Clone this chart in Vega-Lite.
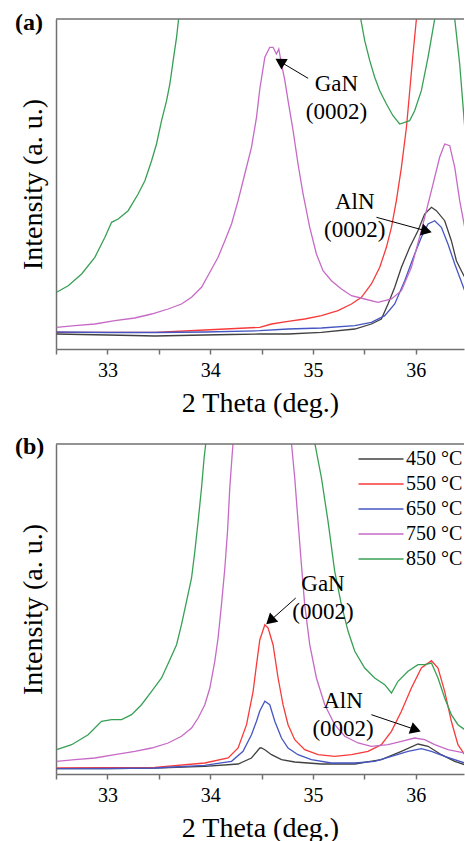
{
  "$schema": "https://vega.github.io/schema/vega-lite/v6.json",
  "padding": {"left": 15, "top": 11, "right": 0, "bottom": 0},
  "spacing": 18,
  "config": {
    "font": "Liberation Serif",
    "view": {"stroke": null},
    "axis": {"domainColor": "#707070", "domainWidth": 1.5, "tickColor": "#707070", "tickWidth": 1.5, "labelFont": "Liberation Serif", "titleFont": "Liberation Serif", "labelColor": "#000000", "titleColor": "#000000", "grid": false, "titleFontWeight": "normal"}
  },
  "resolve": {"scale": {"color": "independent"}, "legend": {"color": "independent"}},
  "datasets": {
    "a": [
      {"t":"450 °C","x":32.506,"y":15},{"t":"450 °C","x":32.75,"y":14.5},{"t":"450 °C","x":33.0,"y":14},{"t":"450 °C","x":33.25,"y":13.5},{"t":"450 °C","x":33.462,"y":13},{"t":"450 °C","x":33.7,"y":13.5},{"t":"450 °C","x":33.948,"y":14},{"t":"450 °C","x":34.2,"y":14.5},{"t":"450 °C","x":34.483,"y":15},{"t":"450 °C","x":34.758,"y":15},{"t":"450 °C","x":35.083,"y":16.7},{"t":"450 °C","x":35.407,"y":20},{"t":"450 °C","x":35.569,"y":25},{"t":"450 °C","x":35.666,"y":30},{"t":"450 °C","x":35.731,"y":45},{"t":"450 °C","x":35.796,"y":61.7},{"t":"450 °C","x":35.861,"y":81.7},{"t":"450 °C","x":35.942,"y":101.7},{"t":"450 °C","x":36.022,"y":118.3},{"t":"450 °C","x":36.087,"y":135},{"t":"450 °C","x":36.153,"y":141.7},{"t":"450 °C","x":36.201,"y":138.3},{"t":"450 °C","x":36.282,"y":128.3},{"t":"450 °C","x":36.347,"y":108.3},{"t":"450 °C","x":36.396,"y":88.3},{"t":"450 °C","x":36.444,"y":78.3},{"t":"450 °C","x":36.477,"y":71.7},
      {"t":"550 °C","x":32.506,"y":16.7},{"t":"550 °C","x":33.0,"y":16.7},{"t":"550 °C","x":33.462,"y":16.7},{"t":"550 °C","x":33.948,"y":19},{"t":"550 °C","x":34.483,"y":21.7},{"t":"550 °C","x":34.597,"y":25},{"t":"550 °C","x":34.758,"y":27.7},{"t":"550 °C","x":34.92,"y":30},{"t":"550 °C","x":35.083,"y":33.3},{"t":"550 °C","x":35.244,"y":38.3},{"t":"550 °C","x":35.375,"y":45},{"t":"550 °C","x":35.472,"y":51.7},{"t":"550 °C","x":35.569,"y":65},{"t":"550 °C","x":35.65,"y":81.7},{"t":"550 °C","x":35.715,"y":101.7},{"t":"550 °C","x":35.764,"y":121.7},{"t":"550 °C","x":35.812,"y":148.3},{"t":"550 °C","x":35.861,"y":181.7},{"t":"550 °C","x":35.91,"y":221.7},{"t":"550 °C","x":35.942,"y":258.3},{"t":"550 °C","x":35.974,"y":295},{"t":"550 °C","x":36.007,"y":330},{"t":"550 °C","x":36.1,"y":700},{"t":"550 °C","x":36.477,"y":1500},
      {"t":"650 °C","x":32.506,"y":17},{"t":"650 °C","x":33.0,"y":16.5},{"t":"650 °C","x":33.462,"y":16.5},{"t":"650 °C","x":33.948,"y":17},{"t":"650 °C","x":34.483,"y":18.3},{"t":"650 °C","x":34.758,"y":20},{"t":"650 °C","x":35.083,"y":21},{"t":"650 °C","x":35.407,"y":23.3},{"t":"650 °C","x":35.569,"y":26.7},{"t":"650 °C","x":35.699,"y":33.3},{"t":"650 °C","x":35.796,"y":45},{"t":"650 °C","x":35.893,"y":68.3},{"t":"650 °C","x":35.99,"y":95},{"t":"650 °C","x":36.055,"y":111.7},{"t":"650 °C","x":36.12,"y":125},{"t":"650 °C","x":36.185,"y":128.3},{"t":"650 °C","x":36.25,"y":121.7},{"t":"650 °C","x":36.314,"y":105},{"t":"650 °C","x":36.38,"y":85},{"t":"650 °C","x":36.428,"y":71.7},{"t":"650 °C","x":36.477,"y":58.3},
      {"t":"750 °C","x":32.506,"y":21.7},{"t":"750 °C","x":32.684,"y":23.3},{"t":"750 °C","x":32.878,"y":25},{"t":"750 °C","x":33.073,"y":28.3},{"t":"750 °C","x":33.267,"y":31},{"t":"750 °C","x":33.43,"y":35},{"t":"750 °C","x":33.591,"y":40},{"t":"750 °C","x":33.721,"y":45},{"t":"750 °C","x":33.819,"y":51.7},{"t":"750 °C","x":33.916,"y":61.7},{"t":"750 °C","x":33.997,"y":76.7},{"t":"750 °C","x":34.077,"y":91.7},{"t":"750 °C","x":34.143,"y":108.3},{"t":"750 °C","x":34.208,"y":125},{"t":"750 °C","x":34.272,"y":148.3},{"t":"750 °C","x":34.337,"y":175},{"t":"750 °C","x":34.402,"y":201.7},{"t":"750 °C","x":34.451,"y":231.7},{"t":"750 °C","x":34.483,"y":260},{"t":"750 °C","x":34.532,"y":291.7},{"t":"750 °C","x":34.58,"y":301.7},{"t":"750 °C","x":34.612,"y":301.7},{"t":"750 °C","x":34.645,"y":295},{"t":"750 °C","x":34.668,"y":300},{"t":"750 °C","x":34.694,"y":285},{"t":"750 °C","x":34.727,"y":268.3},{"t":"750 °C","x":34.758,"y":248.3},{"t":"750 °C","x":34.807,"y":218.3},{"t":"750 °C","x":34.855,"y":185},{"t":"750 °C","x":34.904,"y":155},{"t":"750 °C","x":34.969,"y":121.7},{"t":"750 °C","x":35.034,"y":95},{"t":"750 °C","x":35.098,"y":78.3},{"t":"750 °C","x":35.18,"y":68.3},{"t":"750 °C","x":35.277,"y":60},{"t":"750 °C","x":35.375,"y":53.3},{"t":"750 °C","x":35.504,"y":50},{"t":"750 °C","x":35.633,"y":46.7},{"t":"750 °C","x":35.764,"y":50},{"t":"750 °C","x":35.861,"y":58.3},{"t":"750 °C","x":35.958,"y":81.7},{"t":"750 °C","x":36.055,"y":118.3},{"t":"750 °C","x":36.153,"y":158.3},{"t":"750 °C","x":36.233,"y":191.7},{"t":"750 °C","x":36.282,"y":205},{"t":"750 °C","x":36.331,"y":203.3},{"t":"750 °C","x":36.38,"y":181.7},{"t":"750 °C","x":36.428,"y":148.3},{"t":"750 °C","x":36.477,"y":121.7},
      {"t":"850 °C","x":32.506,"y":56.7},{"t":"850 °C","x":32.619,"y":63.3},{"t":"850 °C","x":32.749,"y":75},{"t":"850 °C","x":32.878,"y":91.7},{"t":"850 °C","x":32.976,"y":111.7},{"t":"850 °C","x":33.041,"y":126.7},{"t":"850 °C","x":33.105,"y":130},{"t":"850 °C","x":33.202,"y":138.3},{"t":"850 °C","x":33.299,"y":155},{"t":"850 °C","x":33.365,"y":168.3},{"t":"850 °C","x":33.43,"y":188.3},{"t":"850 °C","x":33.478,"y":205},{"t":"850 °C","x":33.527,"y":228.3},{"t":"850 °C","x":33.576,"y":248.3},{"t":"850 °C","x":33.608,"y":265},{"t":"850 °C","x":33.64,"y":288.3},{"t":"850 °C","x":33.673,"y":311.7},{"t":"850 °C","x":33.695,"y":331.7},{"t":"850 °C","x":33.75,"y":420},{"t":"850 °C","x":34.6,"y":1000},{"t":"850 °C","x":35.4,"y":420},{"t":"850 °C","x":35.465,"y":330},{"t":"850 °C","x":35.504,"y":308.3},{"t":"850 °C","x":35.553,"y":288.3},{"t":"850 °C","x":35.601,"y":271.7},{"t":"850 °C","x":35.65,"y":258.3},{"t":"850 °C","x":35.715,"y":245},{"t":"850 °C","x":35.779,"y":233.3},{"t":"850 °C","x":35.844,"y":225},{"t":"850 °C","x":35.893,"y":226.7},{"t":"850 °C","x":35.941,"y":228.3},{"t":"850 °C","x":35.99,"y":238.3},{"t":"850 °C","x":36.055,"y":258.3},{"t":"850 °C","x":36.12,"y":291.7},{"t":"850 °C","x":36.185,"y":330},{"t":"850 °C","x":36.25,"y":450},{"t":"850 °C","x":36.31,"y":480},{"t":"850 °C","x":36.36,"y":420},{"t":"850 °C","x":36.38,"y":330},{"t":"850 °C","x":36.428,"y":285},{"t":"850 °C","x":36.477,"y":222}
    ],
    "b": [
      {"t":"450 °C","x":32.506,"y":5.3},{"t":"450 °C","x":33.0,"y":5.5},{"t":"450 °C","x":33.462,"y":6},{"t":"450 °C","x":33.948,"y":7.7},{"t":"450 °C","x":34.272,"y":10},{"t":"450 °C","x":34.402,"y":16},{"t":"450 °C","x":34.483,"y":26},{"t":"450 °C","x":34.499,"y":26},{"t":"450 °C","x":34.532,"y":24.3},{"t":"450 °C","x":34.597,"y":19.3},{"t":"450 °C","x":34.694,"y":14.3},{"t":"450 °C","x":34.823,"y":12},{"t":"450 °C","x":35.083,"y":10},{"t":"450 °C","x":35.407,"y":10},{"t":"450 °C","x":35.666,"y":14.3},{"t":"450 °C","x":35.861,"y":22.7},{"t":"450 °C","x":36.022,"y":30},{"t":"450 °C","x":36.12,"y":27.7},{"t":"450 °C","x":36.25,"y":19.3},{"t":"450 °C","x":36.38,"y":12.7},{"t":"450 °C","x":36.477,"y":9.3},
      {"t":"550 °C","x":32.506,"y":6},{"t":"550 °C","x":33.0,"y":6.3},{"t":"550 °C","x":33.462,"y":6.7},{"t":"550 °C","x":33.948,"y":11},{"t":"550 °C","x":34.175,"y":16},{"t":"550 °C","x":34.272,"y":26},{"t":"550 °C","x":34.354,"y":49.3},{"t":"550 °C","x":34.418,"y":82.7},{"t":"550 °C","x":34.451,"y":109.3},{"t":"550 °C","x":34.483,"y":134},{"t":"550 °C","x":34.532,"y":149.3},{"t":"550 °C","x":34.564,"y":146},{"t":"550 °C","x":34.612,"y":129.3},{"t":"550 °C","x":34.661,"y":96},{"t":"550 °C","x":34.709,"y":69.3},{"t":"550 °C","x":34.758,"y":49.3},{"t":"550 °C","x":34.823,"y":34.3},{"t":"550 °C","x":34.92,"y":24.3},{"t":"550 °C","x":35.05,"y":19.3},{"t":"550 °C","x":35.212,"y":17.7},{"t":"550 °C","x":35.375,"y":19.3},{"t":"550 °C","x":35.536,"y":22.7},{"t":"550 °C","x":35.666,"y":29.3},{"t":"550 °C","x":35.764,"y":42.7},{"t":"550 °C","x":35.861,"y":62.7},{"t":"550 °C","x":35.958,"y":86},{"t":"550 °C","x":36.055,"y":106},{"t":"550 °C","x":36.153,"y":113.3},{"t":"550 °C","x":36.217,"y":106},{"t":"550 °C","x":36.282,"y":82.7},{"t":"550 °C","x":36.347,"y":52.7},{"t":"550 °C","x":36.411,"y":29.3},{"t":"550 °C","x":36.477,"y":19.3},
      {"t":"650 °C","x":32.506,"y":5.3},{"t":"650 °C","x":33.0,"y":5.5},{"t":"650 °C","x":33.462,"y":6},{"t":"650 °C","x":33.948,"y":8.7},{"t":"650 °C","x":34.208,"y":12.7},{"t":"650 °C","x":34.32,"y":22.7},{"t":"650 °C","x":34.402,"y":39.3},{"t":"650 °C","x":34.451,"y":52.7},{"t":"650 °C","x":34.483,"y":63},{"t":"650 °C","x":34.532,"y":72.7},{"t":"650 °C","x":34.58,"y":69.3},{"t":"650 °C","x":34.629,"y":52.7},{"t":"650 °C","x":34.694,"y":36},{"t":"650 °C","x":34.758,"y":26},{"t":"650 °C","x":34.855,"y":19.3},{"t":"650 °C","x":34.985,"y":14.3},{"t":"650 °C","x":35.18,"y":11},{"t":"650 °C","x":35.407,"y":11},{"t":"650 °C","x":35.601,"y":12.7},{"t":"650 °C","x":35.764,"y":17.7},{"t":"650 °C","x":35.925,"y":22.7},{"t":"650 °C","x":36.055,"y":25.3},{"t":"650 °C","x":36.153,"y":22.7},{"t":"650 °C","x":36.282,"y":17.7},{"t":"650 °C","x":36.477,"y":11},
      {"t":"750 °C","x":32.506,"y":12.7},{"t":"750 °C","x":32.684,"y":14.3},{"t":"750 °C","x":32.878,"y":16},{"t":"750 °C","x":33.073,"y":19.3},{"t":"750 °C","x":33.267,"y":22.7},{"t":"750 °C","x":33.43,"y":26},{"t":"750 °C","x":33.591,"y":31},{"t":"750 °C","x":33.721,"y":37.7},{"t":"750 °C","x":33.819,"y":46},{"t":"750 °C","x":33.883,"y":56},{"t":"750 °C","x":33.948,"y":69.3},{"t":"750 °C","x":33.997,"y":86},{"t":"750 °C","x":34.045,"y":112.7},{"t":"750 °C","x":34.077,"y":136},{"t":"750 °C","x":34.11,"y":169.3},{"t":"750 °C","x":34.143,"y":206},{"t":"750 °C","x":34.169,"y":242.7},{"t":"750 °C","x":34.191,"y":286},{"t":"750 °C","x":34.214,"y":319.3},{"t":"750 °C","x":34.223,"y":331},{"t":"750 °C","x":34.3,"y":600},{"t":"750 °C","x":34.5,"y":1000},{"t":"750 °C","x":34.7,"y":600},{"t":"750 °C","x":34.791,"y":331},{"t":"750 °C","x":34.823,"y":296},{"t":"750 °C","x":34.855,"y":252.7},{"t":"750 °C","x":34.888,"y":209.3},{"t":"750 °C","x":34.92,"y":169.3},{"t":"750 °C","x":34.969,"y":129.3},{"t":"750 °C","x":35.034,"y":96},{"t":"750 °C","x":35.115,"y":69.3},{"t":"750 °C","x":35.212,"y":49.3},{"t":"750 °C","x":35.31,"y":37.7},{"t":"750 °C","x":35.439,"y":31},{"t":"750 °C","x":35.569,"y":27.7},{"t":"750 °C","x":35.731,"y":29.3},{"t":"750 °C","x":35.861,"y":32.7},{"t":"750 °C","x":35.99,"y":36},{"t":"750 °C","x":36.087,"y":34.3},{"t":"750 °C","x":36.185,"y":29.3},{"t":"750 °C","x":36.314,"y":24.3},{"t":"750 °C","x":36.477,"y":21},
      {"t":"850 °C","x":32.506,"y":24.3},{"t":"850 °C","x":32.652,"y":29.3},{"t":"850 °C","x":32.813,"y":39.3},{"t":"850 °C","x":32.943,"y":52.7},{"t":"850 °C","x":33.041,"y":54.3},{"t":"850 °C","x":33.138,"y":54.3},{"t":"850 °C","x":33.235,"y":59.3},{"t":"850 °C","x":33.332,"y":69.3},{"t":"850 °C","x":33.43,"y":82.7},{"t":"850 °C","x":33.527,"y":96},{"t":"850 °C","x":33.608,"y":114.3},{"t":"850 °C","x":33.673,"y":129.3},{"t":"850 °C","x":33.721,"y":149.3},{"t":"850 °C","x":33.77,"y":172.7},{"t":"850 °C","x":33.819,"y":196},{"t":"850 °C","x":33.851,"y":222.7},{"t":"850 °C","x":33.883,"y":252.7},{"t":"850 °C","x":33.916,"y":286},{"t":"850 °C","x":33.941,"y":316},{"t":"850 °C","x":33.958,"y":331},{"t":"850 °C","x":34.05,"y":500},{"t":"850 °C","x":34.5,"y":1200},{"t":"850 °C","x":34.95,"y":500},{"t":"850 °C","x":35.018,"y":331},{"t":"850 °C","x":35.083,"y":296},{"t":"850 °C","x":35.147,"y":252.7},{"t":"850 °C","x":35.212,"y":202.7},{"t":"850 °C","x":35.277,"y":169.3},{"t":"850 °C","x":35.342,"y":142.7},{"t":"850 °C","x":35.407,"y":122.7},{"t":"850 °C","x":35.504,"y":106},{"t":"850 °C","x":35.601,"y":96},{"t":"850 °C","x":35.699,"y":89.3},{"t":"850 °C","x":35.764,"y":81},{"t":"850 °C","x":35.828,"y":92.7},{"t":"850 °C","x":35.925,"y":102.7},{"t":"850 °C","x":36.022,"y":109.3},{"t":"850 °C","x":36.087,"y":109.3},{"t":"850 °C","x":36.153,"y":111},{"t":"850 °C","x":36.217,"y":96},{"t":"850 °C","x":36.282,"y":76},{"t":"850 °C","x":36.347,"y":59.3},{"t":"850 °C","x":36.411,"y":49.3},{"t":"850 °C","x":36.477,"y":44.3}
    ],
    "ann_a": [
      {"label":"GaN\n(0002)","tx":35.229,"ty":265,"sx":34.953,"sy":270.7,"hx":34.68,"hy":287.4,"ang":301},
      {"label":"AlN\n(0002)","tx":35.407,"ty":147.3,"sx":35.618,"sy":131.7,"hx":36.106,"hy":118,"ang":105}
    ],
    "ann_b": [
      {"label":"GaN\n(0002)","tx":35.098,"ty":190.3,"sx":34.833,"sy":176,"hx":34.584,"hy":153.3,"ang":228},
      {"label":"AlN\n(0002)","tx":35.293,"ty":72.7,"sx":35.569,"sy":59.3,"hx":36.0,"hy":44.3,"ang":109}
    ]
  },
  "vconcat": [
    {
      "width": 408, "height": 330,
      "title": {"text": "(a)", "anchor": "start", "frame": "group", "dx": -41, "offset": -29, "baseline": "middle", "fontSize": 24, "fontWeight": "bold", "font": "Liberation Serif", "color": "#000000"},
      "layer": [
        {"data": {"name": "a"}, "mark": {"type": "line", "clip": true, "strokeWidth": 1.3},
          "encoding": {
            "x": {"field": "x", "type": "quantitative", "title": "2 Theta (deg.)", "scale": {"domain": [32.5, 36.47], "nice": false, "zero": false},
              "axis": {"values": [32.5, 33, 33.5, 34, 34.5, 35, 35.5, 36], "labelExpr": "datum.value % 1 === 0 ? format(datum.value, 'd') : ''", "tickSize": 5, "labelPadding": 6, "labelFontSize": 20, "titleFontSize": 28, "titlePadding": 9, "labelFlush": false, "labelOverlap": false}},
            "y": {"field": "y", "type": "quantitative", "title": "Intensity (a. u.)", "scale": {"domain": [0, 330], "nice": false, "zero": false},
              "axis": {"ticks": false, "labels": false, "titleFontSize": 28, "titlePadding": 9}},
            "color": {"field": "t", "type": "nominal", "scale": {"domain": ["450 °C", "550 °C", "650 °C", "750 °C", "850 °C"], "range": ["#404040", "#f83a3a", "#4556c2", "#c66ac6", "#38a055"]}, "legend": null}
          }},
        {"data": {"values": [{}]}, "mark": {"type": "rule", "color": "#707070", "strokeWidth": 1.5}, "encoding": {"y": {"datum": 330}}},
        {"data": {"name": "ann_a"}, "mark": {"type": "rule", "color": "#000000", "strokeWidth": 1},
          "encoding": {"x": {"field": "sx", "type": "quantitative", "title": "2 Theta (deg.)"}, "y": {"field": "sy", "type": "quantitative", "title": "Intensity (a. u.)"}, "x2": {"field": "hx"}, "y2": {"field": "hy"}}},
        {"data": {"name": "ann_a"}, "mark": {"type": "point", "shape": "triangle-up", "filled": true, "color": "#000000", "size": 150, "opacity": 1},
          "encoding": {"x": {"field": "hx", "type": "quantitative", "title": "2 Theta (deg.)"}, "y": {"field": "hy", "type": "quantitative", "title": "Intensity (a. u.)"}, "angle": {"field": "ang", "type": "quantitative", "scale": null}}},
        {"data": {"name": "ann_a"}, "mark": {"type": "text", "font": "Liberation Serif", "fontSize": 23, "lineBreak": "\n", "lineHeight": 28, "align": "center", "baseline": "middle", "color": "#000000"},
          "encoding": {"x": {"field": "tx", "type": "quantitative", "title": "2 Theta (deg.)"}, "y": {"field": "ty", "type": "quantitative", "title": "Intensity (a. u.)"}, "text": {"field": "label"}}}
      ]
    },
    {
      "width": 408, "height": 330,
      "title": {"text": "(b)", "anchor": "start", "frame": "group", "dx": -41, "offset": -28, "baseline": "middle", "fontSize": 24, "fontWeight": "bold", "font": "Liberation Serif", "color": "#000000"},
      "layer": [
        {"data": {"name": "b"}, "mark": {"type": "line", "clip": true, "strokeWidth": 1.3},
          "encoding": {
            "x": {"field": "x", "type": "quantitative", "title": "2 Theta (deg.)", "scale": {"domain": [32.5, 36.47], "nice": false, "zero": false},
              "axis": {"values": [32.5, 33, 33.5, 34, 34.5, 35, 35.5, 36], "labelExpr": "datum.value % 1 === 0 ? format(datum.value, 'd') : ''", "tickSize": 5, "labelPadding": 6, "labelFontSize": 20, "titleFontSize": 28, "titlePadding": 9, "labelFlush": false, "labelOverlap": false}},
            "y": {"field": "y", "type": "quantitative", "title": "Intensity (a. u.)", "scale": {"domain": [0, 330], "nice": false, "zero": false},
              "axis": {"ticks": false, "labels": false, "titleFontSize": 28, "titlePadding": 9}},
            "color": {"field": "t", "type": "nominal", "scale": {"domain": ["450 °C", "550 °C", "650 °C", "750 °C", "850 °C"], "range": ["#404040", "#f83a3a", "#4556c2", "#c66ac6", "#38a055"]},
              "legend": {"orient": "none", "legendX": 315, "legendY": 5, "title": null, "symbolType": "M-4.5,0H4.5", "symbolSize": 100, "symbolStrokeWidth": 1.6, "labelFont": "Liberation Serif", "labelFontSize": 20, "labelColor": "#000000", "labelOffset": 15, "rowPadding": 5, "padding": 0, "labelLimit": 0}}
          }},
        {"data": {"values": [{}]}, "mark": {"type": "rule", "color": "#707070", "strokeWidth": 1.5}, "encoding": {"y": {"datum": 330}}},
        {"data": {"name": "ann_b"}, "mark": {"type": "rule", "color": "#000000", "strokeWidth": 1},
          "encoding": {"x": {"field": "sx", "type": "quantitative", "title": "2 Theta (deg.)"}, "y": {"field": "sy", "type": "quantitative", "title": "Intensity (a. u.)"}, "x2": {"field": "hx"}, "y2": {"field": "hy"}}},
        {"data": {"name": "ann_b"}, "mark": {"type": "point", "shape": "triangle-up", "filled": true, "color": "#000000", "size": 150, "opacity": 1},
          "encoding": {"x": {"field": "hx", "type": "quantitative", "title": "2 Theta (deg.)"}, "y": {"field": "hy", "type": "quantitative", "title": "Intensity (a. u.)"}, "angle": {"field": "ang", "type": "quantitative", "scale": null}}},
        {"data": {"name": "ann_b"}, "mark": {"type": "text", "font": "Liberation Serif", "fontSize": 23, "lineBreak": "\n", "lineHeight": 28, "align": "center", "baseline": "middle", "color": "#000000"},
          "encoding": {"x": {"field": "tx", "type": "quantitative", "title": "2 Theta (deg.)"}, "y": {"field": "ty", "type": "quantitative", "title": "Intensity (a. u.)"}, "text": {"field": "label"}}}
      ]
    }
  ]
}
